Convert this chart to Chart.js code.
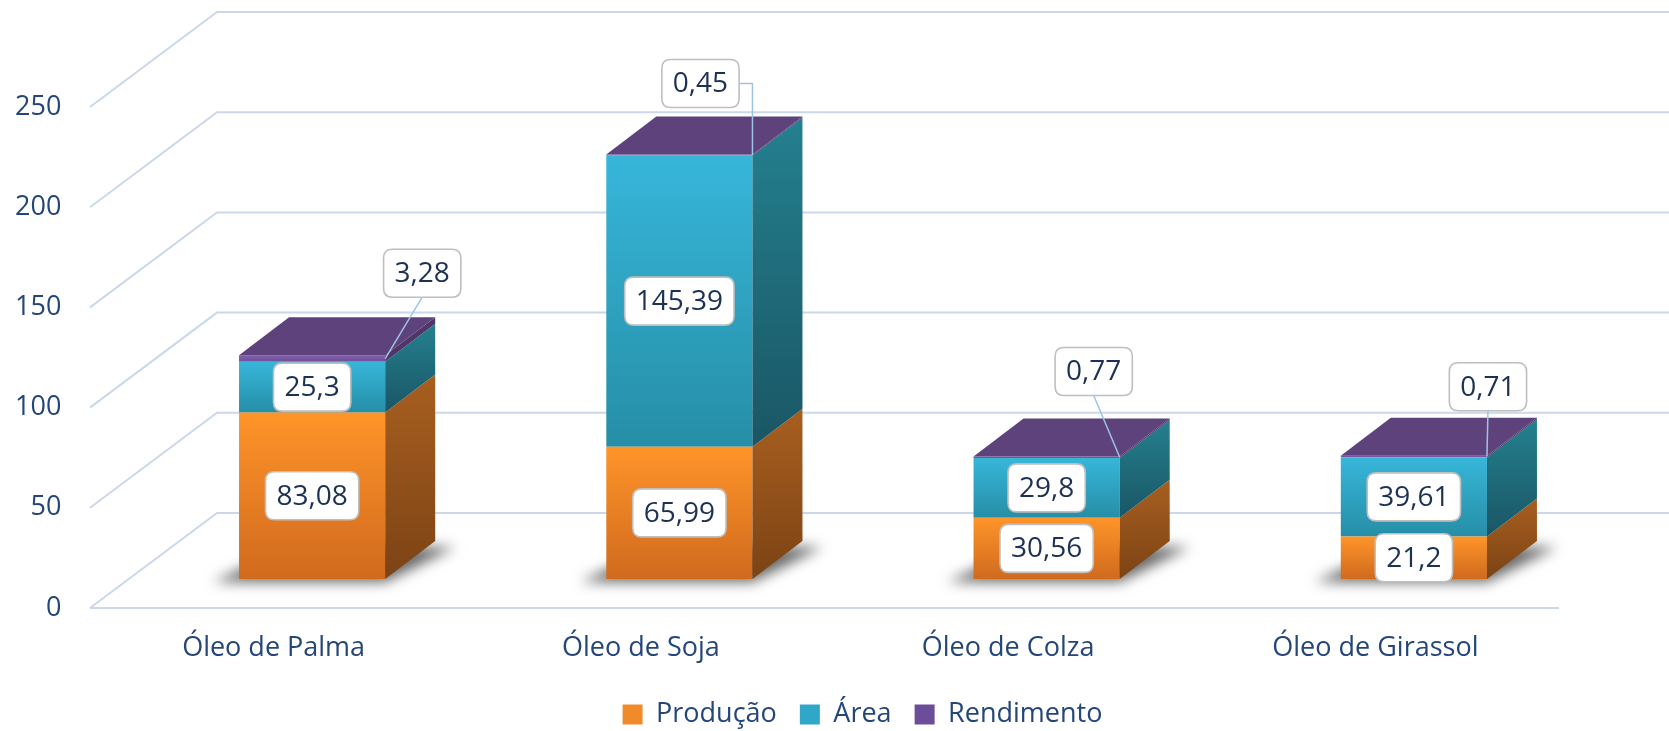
<!DOCTYPE html>
<html><head><meta charset="utf-8">
<script src="https://cdn.jsdelivr.net/npm/chart.js@4.4.1/dist/chart.umd.min.js"></script>
<style>html,body{margin:0;padding:0;background:#fff;overflow:hidden}#wrap{width:1669px;height:731px}</style>
</head><body><div id="wrap"><canvas id="c" width="1669" height="731"></canvas></div>
<script>
// ---- data ----
const categories = ['Óleo de Palma', 'Óleo de Soja', 'Óleo de Colza', 'Óleo de Girassol'];
const seriesNames = ['Produção', 'Área', 'Rendimento'];
const producao = [83.08, 65.99, 30.56, 21.2];
const area = [25.3, 145.39, 29.8, 39.61];
const rendimento = [3.28, 0.45, 0.77, 0.71];
const yTicks = [0, 50, 100, 150, 200, 250];

// ---- style ----
const FONT = "'Open Sans', 'Noto Sans', sans-serif";
const AXIS_COLOR = '#25467A';
const LABEL_COLOR = '#1C3154';
const GRID = '#CBD8EA';
const FRONT_TOP = ['#FF9429', '#37B6DA', '#8360AD'];
const FRONT_BOT = ['#D06A1E', '#268EA6', '#6E4F98'];
const SIDE_TOP = ['#A85F1F', '#24808F', '#4F3669'];
const SIDE_BOT = ['#7C4315', '#1A5665', '#4F3669'];
const TOP_FACE = '#5D427C';
const LEG_COLORS = ['#F08A2B', '#2FA7C8', '#6C4D9A'];
const BAR_SHIFT = {x: 38.5, y: -29};
const DEPTH = {x: 50, y: -38};
const WALL = {x: 127, y: -95};
// offsets of the Rendimento labels from the bar's front top-right corner
const rendLabelOffset = [{dx: 37, dy: -82, elbow: false}, {dx: -52, dy: -71, elbow: true}, {dx: -26, dy: -85, elbow: false}, {dx: 1, dy: -69, elbow: false}];

const seriesValues = [producao, area, rendimento];
const fmt = v => String(v).replace('.', ',');

function frontFill(i) {
  return (c) => {
    const chart = c.chart;
    if (c.type !== 'data' || !chart.chartArea) return LEG_COLORS[i];
    const y = chart.scales.y;
    let start = 0;
    for (let k = 0; k < i; k++) start += seriesValues[k][c.dataIndex];
    const end = start + seriesValues[i][c.dataIndex];
    const y0 = y.getPixelForValue(start), y1 = y.getPixelForValue(end);
    const g = chart.ctx.createLinearGradient(0, y1, 0, y0);
    g.addColorStop(0, FRONT_TOP[i]);
    g.addColorStop(1, FRONT_BOT[i]);
    return g;
  };
}

function roundRect(ctx, x, y, w, h, r) {
  ctx.beginPath();
  ctx.moveTo(x + r, y);
  ctx.lineTo(x + w - r, y); ctx.quadraticCurveTo(x + w, y, x + w, y + r);
  ctx.lineTo(x + w, y + h - r); ctx.quadraticCurveTo(x + w, y + h, x + w - r, y + h);
  ctx.lineTo(x + r, y + h); ctx.quadraticCurveTo(x, y + h, x, y + h - r);
  ctx.lineTo(x, y + r); ctx.quadraticCurveTo(x, y, x + r, y);
  ctx.closePath();
}
function drawBox(ctx, text, cx, cy) {
  ctx.font = '28px ' + FONT;
  const w = ctx.measureText(text).width + 22, h = 48;
  roundRect(ctx, cx - w / 2, cy - h / 2, w, h, 9);
  ctx.fillStyle = '#FFFFFF'; ctx.fill();
  ctx.lineWidth = 1.6; ctx.strokeStyle = '#BFBFBF'; ctx.stroke();
  ctx.fillStyle = LABEL_COLOR; ctx.textAlign = 'center'; ctx.textBaseline = 'middle';
  ctx.fillText(text, cx, cy + 1);
  return w;
}

const threeD = {
  id: 'threeD',
  beforeDatasetsDraw(chart) {
    const {ctx, chartArea: ca, scales: {y}} = chart;
    ctx.save();
    ctx.strokeStyle = GRID; ctx.lineWidth = 2;
    yTicks.forEach(v => {
      const yf = y.getPixelForValue(v);
      ctx.beginPath();
      ctx.moveTo(ca.left, yf);
      ctx.lineTo(ca.left + WALL.x, yf + WALL.y);
      ctx.lineTo(chart.width, yf + WALL.y);
      ctx.stroke();
    });
    const y0 = y.getPixelForValue(0);
    ctx.beginPath(); ctx.moveTo(ca.left, y0); ctx.lineTo(ca.right, y0); ctx.stroke();
    ctx.restore();

    ctx.save();
    ctx.translate(BAR_SHIFT.x, BAR_SHIFT.y);
    // soft floor shadows
    chart.getDatasetMeta(0).data.forEach(bar => {
      const l = bar.x - bar.width / 2, r = bar.x + bar.width / 2, b = bar.base, off = 4000;
      ctx.save();
      ctx.shadowColor = 'rgba(0,0,0,0.6)'; ctx.shadowBlur = 13; ctx.shadowOffsetX = -off;
      ctx.fillStyle = '#000';
      ctx.beginPath();
      ctx.moveTo(l - 26 + off, b + 3);
      ctx.lineTo(r + off, b + 3);
      ctx.lineTo(r + DEPTH.x + 20 + off, b + DEPTH.y + 6);
      ctx.lineTo(l + DEPTH.x + off, b + DEPTH.y + 6);
      ctx.closePath(); ctx.fill();
      ctx.restore();
    });
  },
  afterDatasetsDraw(chart) {
    const ctx = chart.ctx;
    const n = chart.data.datasets.length;
    for (let i = 0; i < n; i++) {
      chart.getDatasetMeta(i).data.forEach(bar => {
        const r = bar.x + bar.width / 2;
        const top = Math.min(bar.y, bar.base), bot = Math.max(bar.y, bar.base);
        const g = ctx.createLinearGradient(0, top + DEPTH.y, 0, bot);
        g.addColorStop(0, SIDE_TOP[i]); g.addColorStop(1, SIDE_BOT[i]);
        ctx.fillStyle = g;
        ctx.beginPath();
        ctx.moveTo(r, top); ctx.lineTo(r + DEPTH.x, top + DEPTH.y);
        ctx.lineTo(r + DEPTH.x, bot + DEPTH.y); ctx.lineTo(r, bot);
        ctx.closePath(); ctx.fill();
      });
    }
    chart.getDatasetMeta(n - 1).data.forEach(bar => {
      const l = bar.x - bar.width / 2, r = bar.x + bar.width / 2, t = Math.min(bar.y, bar.base);
      ctx.fillStyle = TOP_FACE;
      ctx.beginPath();
      ctx.moveTo(l, t); ctx.lineTo(l + DEPTH.x, t + DEPTH.y);
      ctx.lineTo(r + DEPTH.x, t + DEPTH.y); ctx.lineTo(r, t);
      ctx.closePath(); ctx.fill();
    });
    // data labels
    for (let i = 0; i < n - 1; i++) {
      chart.getDatasetMeta(i).data.forEach((bar, j) => {
        drawBox(ctx, fmt(seriesValues[i][j]), bar.x, (bar.y + bar.base) / 2);
      });
    }
    chart.getDatasetMeta(n - 1).data.forEach((bar, j) => {
      const r = bar.x + bar.width / 2;
      const mid = (bar.y + bar.base) / 2, t = Math.min(bar.y, bar.base);
      const o = rendLabelOffset[j];
      const cx = r + o.dx, cy = t + o.dy;
      ctx.font = '28px ' + FONT;
      const w = ctx.measureText(fmt(rendimento[j])).width + 22;
      ctx.strokeStyle = '#9DC3E6'; ctx.lineWidth = 1.5;
      ctx.beginPath();
      if (o.elbow) { ctx.moveTo(cx + w / 2, cy); ctx.lineTo(r, cy); ctx.lineTo(r, mid); }
      else { ctx.moveTo(cx, cy + 24); ctx.lineTo(r, mid); }
      ctx.stroke();
      drawBox(ctx, fmt(rendimento[j]), cx, cy);
    });
    ctx.restore();
  }
};

const datasets = seriesNames.map((name, i) => ({
  label: name,
  data: seriesValues[i],
  backgroundColor: frontFill(i),
  borderWidth: 0,
  categoryPercentage: 1,
  barPercentage: 0.398
}));

new Chart(document.getElementById('c'), {
  type: 'bar',
  data: {labels: categories, datasets},
  options: {
    responsive: false,
    devicePixelRatio: 1,
    animation: false,
    layout: {padding: {left: 56, right: 0, top: 107, bottom: 0}},
    plugins: {
      tooltip: {enabled: false},
      legend: {
        position: 'bottom',
        maxHeight: 53,
        labels: {
          font: {family: FONT, size: 27},
          color: AXIS_COLOR,
          boxWidth: 20, boxHeight: 20, padding: 23,
          generateLabels: (chart) => chart.data.datasets.map((d, i) => ({
            text: d.label, fillStyle: LEG_COLORS[i], strokeStyle: LEG_COLORS[i], lineWidth: 0,
            hidden: false, datasetIndex: i, fontColor: AXIS_COLOR
          }))
        }
      }
    },
    scales: {
      x: {
        stacked: true,
        grid: {display: false, drawTicks: false},
        border: {display: false},
        ticks: {font: {family: FONT, size: 27}, color: AXIS_COLOR, padding: 24, maxRotation: 0},
        afterFit: s => { s.height = 70; }
      },
      y: {
        stacked: true, min: 0, max: 250,
        grid: {display: false, drawTicks: false},
        border: {display: false},
        ticks: {stepSize: 50, font: {family: FONT, size: 27}, color: AXIS_COLOR,
                mirror: true, crossAlign: 'far', padding: -75},
        afterFit: s => { s.width = 34; }
      },
      yRight: {
        type: 'linear', position: 'right', min: 0, max: 1,
        grid: {display: false, drawTicks: false},
        border: {display: false},
        ticks: {display: false},
        afterFit: s => { s.width = 110; }
      }
    }
  },
  plugins: [threeD]
});
</script></body></html>
